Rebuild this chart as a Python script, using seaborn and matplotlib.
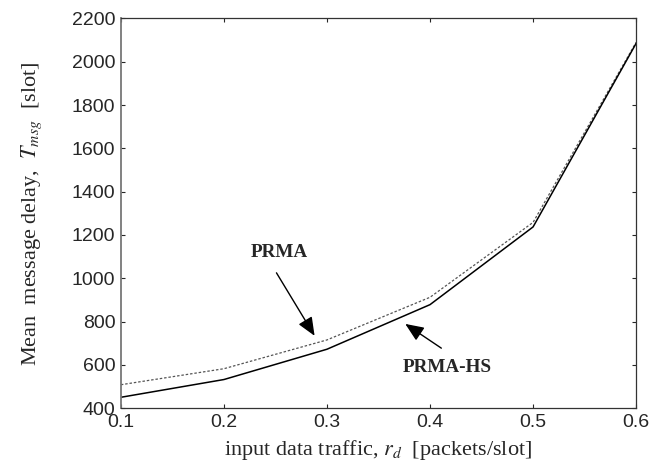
import matplotlib
matplotlib.use("Agg")
import matplotlib.pyplot as plt
import seaborn as sns
import pandas as pd

traffic = [0.1, 0.2, 0.3, 0.4, 0.5, 0.6]
delay_prma = [508, 582, 715, 912, 1258, 2090]
delay_prma_hs = [450, 532, 672, 878, 1237, 2085]
xticks = [0.1, 0.2, 0.3, 0.4, 0.5, 0.6]
yticks = [400, 600, 800, 1000, 1200, 1400, 1600, 1800, 2000, 2200]

sns.set_style("ticks")
plt.rcParams["mathtext.fontset"] = "stix"

df = pd.DataFrame({
    "traffic": traffic * 2,
    "delay": delay_prma + delay_prma_hs,
    "scheme": ["PRMA"] * len(traffic) + ["PRMA-HS"] * len(traffic),
})

fig = plt.figure(figsize=(6.64, 4.74), dpi=100)
ax = fig.add_axes([0.182, 0.139, 0.776, 0.822])

sns.lineplot(data=df[df.scheme == "PRMA"], x="traffic", y="delay", ax=ax,
             color="#555555", linewidth=0.9, linestyle=(0, (2, 1.5)), legend=False)
sns.lineplot(data=df[df.scheme == "PRMA-HS"], x="traffic", y="delay", ax=ax,
             color="black", linewidth=1.1, legend=False)

ax.set_xlim(0.1, 0.6)
ax.set_ylim(400, 2200)
ax.set_xticks(xticks)
ax.set_yticks(yticks)
ax.set_xticklabels([f"{t:.1f}" for t in xticks], family="Liberation Sans", fontsize=14)
ax.set_yticklabels([str(t) for t in yticks], family="Liberation Sans", fontsize=14)
ax.tick_params(direction="in", length=3, width=0.8, top=True, right=True, pad=4)
for s in ax.spines.values():
    s.set_linewidth(0.9)
    s.set_color("#333333")
ax.spines["left"].set_color("#777777")
ax.spines["left"].set_linewidth(1.3)

ax.set_xlabel(r"input data traffic, $r_d$  [packets/slot]", family="Liberation Serif",
              fontsize=16, labelpad=5)
ax.set_ylabel(r"Mean  message delay,  $T_{msg}$  [slot]", family="Liberation Serif",
              fontsize=16, labelpad=20)

arrow = dict(arrowstyle="-|>,head_length=0.45,head_width=0.19", color="black",
             lw=1.0, mutation_scale=25, shrinkA=0, shrinkB=0)
ax.annotate("", xy=(0.288, 734), xytext=(0.251, 1025), arrowprops=arrow)
ax.text(0.254, 1121, "PRMA", ha="center", va="center", family="Liberation Serif",
        fontweight="bold", fontsize=13.8)
ax.annotate("", xy=(0.376, 789), xytext=(0.411, 677), arrowprops=arrow)
ax.text(0.417, 586, "PRMA-HS", ha="center", va="center", family="Liberation Serif",
        fontweight="bold", fontsize=13.8)

fig.savefig("out.png", dpi=100)
